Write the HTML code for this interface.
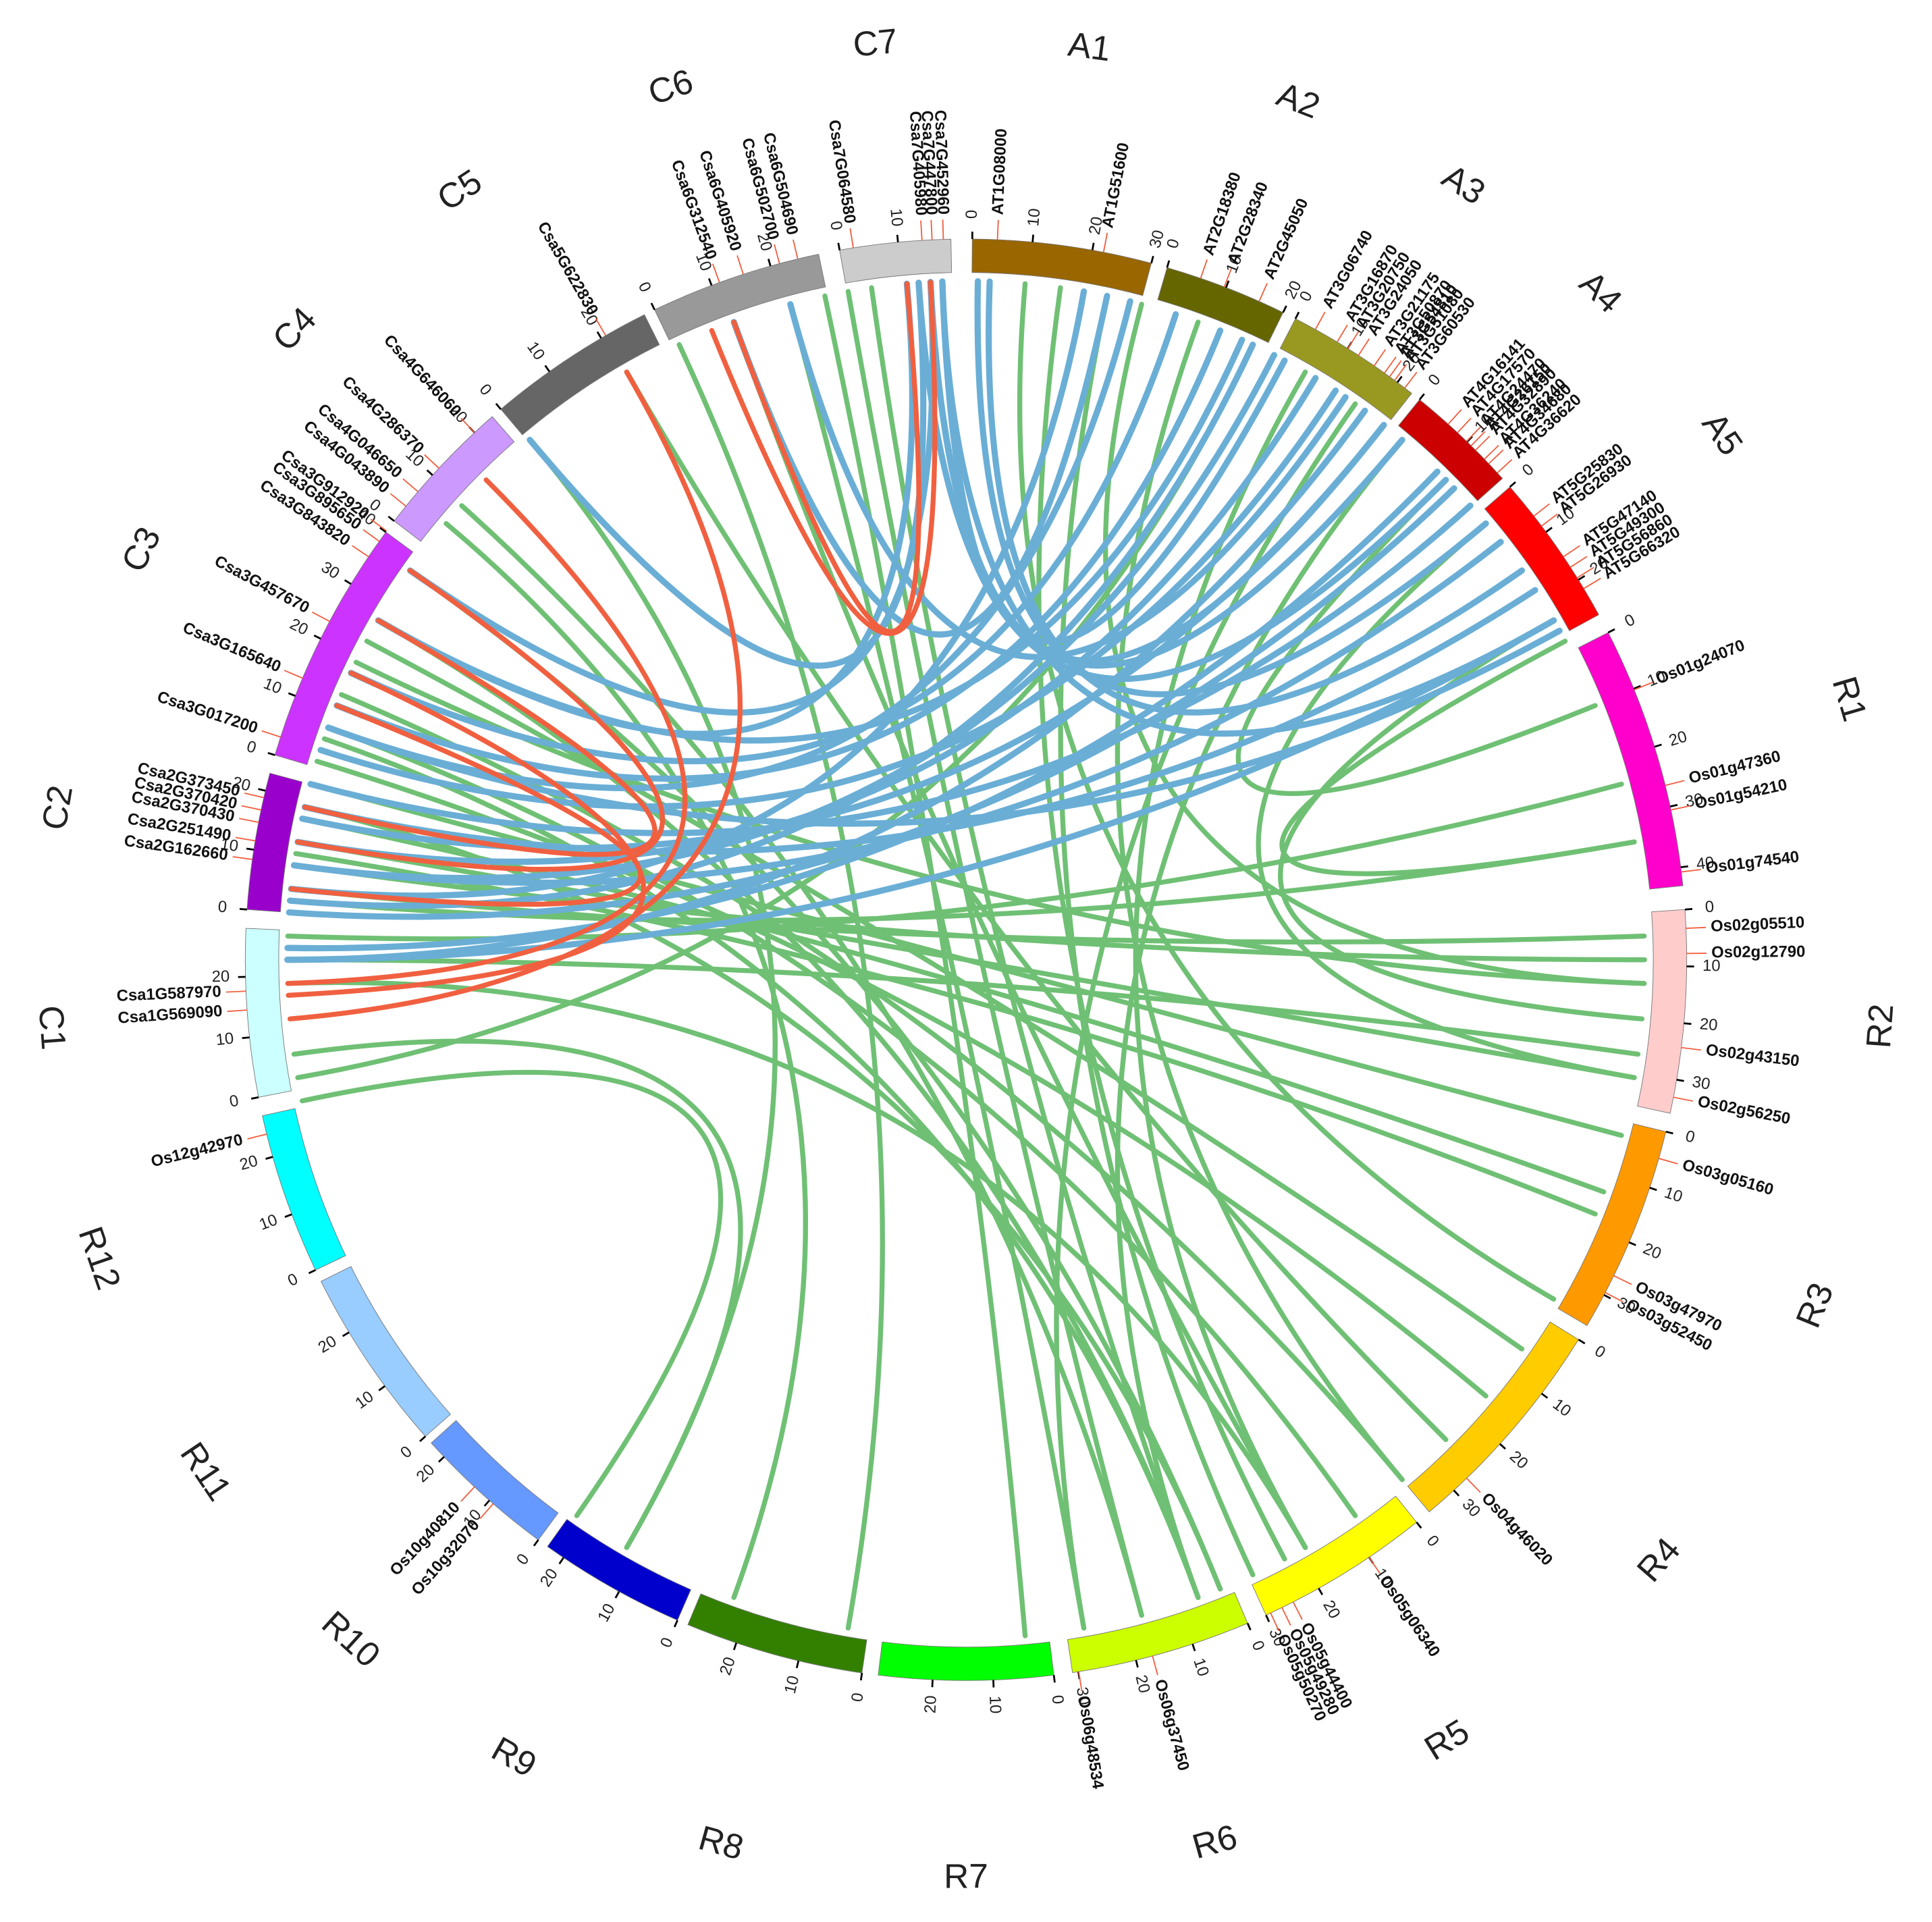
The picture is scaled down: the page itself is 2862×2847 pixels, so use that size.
<!DOCTYPE html>
<html><head><meta charset="utf-8">
<style>html,body{margin:0;padding:0;background:#fff;}svg{display:block;}</style>
</head><body>
<svg id="s" xmlns="http://www.w3.org/2000/svg" width="2862" height="2847" viewBox="0 0 1560 1552" font-family="Liberation Sans, sans-serif"></svg>
<script>
var S=document.getElementById('s'),NS='http://www.w3.org/2000/svg',CX=780,CY=775;
function P(a,r){var t=a*Math.PI/180;return [CX+r*Math.sin(t),CY-r*Math.cos(t)];}
function el(n,at,txt){var e=document.createElementNS(NS,n);for(var k in at)e.setAttribute(k,at[k]);if(txt)e.textContent=txt;S.appendChild(e);return e;}
var chr=[
['A1',0.5,14.9,'#996600',30],['A2',16.2,26.1,'#666600',20],['A3',27.2,38.2,'#999922',23],['A4',39,48.1,'#cc0000',18],['A5',49,61.4,'#ff0000',27],
['R1',63,84.1,'#ff00cc',43],['R2',86,102.3,'#ffcccc',36],['R3',103.8,120.5,'#ff9900',36],['R4',121.8,140,'#ffcc00',35],['R5',141.3,155.4,'#ffff00',30],
['R6',157,171.5,'#ccff00',31],['R7',173,187,'#00ff00',29],['R8',188.3,202.7,'#338000',28],['R9',203.6,215.5,'#0000cc',23],['R10',216.4,227.9,'#6699ff',23],
['R11',228.6,243.5,'#99ccff',29],['R12',244.5,257.5,'#00ffff',27],['C1',259,272.5,'#ccffff',28],['C2',274,285,'#9900cc',23],['C3',286.5,306.4,'#cc33ff',40],
['C4',307.5,318.9,'#cc99ff',24],['C5',319.8,333.5,'#666666',28],['C6',334.4,348.2,'#999999',28],['C7',349.9,358.8,'#cccccc',19]];
var R0=555,R1=582;
// links
function link(a,b,c,w){var p=P(a,548),q=P(b,548);el('path',{d:'M'+p[0]+' '+p[1]+' Q'+CX+' '+CY+' '+q[0]+' '+q[1],fill:'none',stroke:c,'stroke-width':w,'stroke-linecap':'round'});}
var green=[[350,165],[352,160],[345,170],[300,160],[305,158],[290,145],[285,105],[282,110],[280,100],[278,90],[276,88],[275,80],[272,75],[268,150],[262,210],[258,215],[283,158],[287,130],[293,140],[296,92],[310,200],[320,210],[335,190],[348,175],[5,120],[20,140],[30,150],[40,160],[50,100],[60,95],[35,170],[45,68],[15,92],[25,260],[340,150],[330,135],[270,98],[279,112],[289,160],[298,125],[312,165],[8,152],[12,155],[62,80]];
green.forEach(function(l){link(l[0],l[1],'#6fc074',4);});
var blue=[[357,305],[357,40],[358,28],[1,50],[2,55],[14,290],[22,292],[25,275],[27,278],[31,280],[33,288],[36,270],[38,282],[44,271],[46,274],[52,278],[57,283],[60,270],[61,290],[340,12],[345,34],[356,320],[355,300],[358,60],[18,295],[24,300],[356,45],[357,38],[10,276],[48,285]];
blue.forEach(function(l){link(l[0],l[1],'#6aaed6',5);});
var red=[[338,357],[340,355],[330,265],[315,268],[305,280],[300,283],[295,267],[292,276]];
red.forEach(function(l){link(l[0],l[1],'#f06040',4);});
// chromosome arcs
chr.forEach(function(c){var a=P(c[1],R1),b=P(c[2],R1),d=P(c[2],R0),e=P(c[1],R0);
el('path',{d:'M'+a+' A'+R1+' '+R1+' 0 0 1 '+b+' L'+d+' A'+R0+' '+R0+' 0 0 0 '+e+' Z',fill:c[3],stroke:'#777','stroke-width':0.5});
// ticks
var span=c[2]-c[1];for(var v=0;v<=c[4];v+=10){var ang=c[1]+span*v/c[4];var t1=P(ang,R1),t2=P(ang,R1+6);
el('line',{x1:t1[0],y1:t1[1],x2:t2[0],y2:t2[1],stroke:'#000','stroke-width':1.5});
var tp=P(ang,R1+20);var rot=ang<=180?ang-90:ang+90;
el('text',{x:tp[0],y:tp[1],'font-size':13,'text-anchor':'middle','dominant-baseline':'middle',transform:'rotate('+rot+' '+tp[0]+' '+tp[1]+')',fill:'#222'},String(v));}
// name
var m=(c[1]+c[2])/2,np=P(m,742),nr=(m>90&&m<270)?m-180:m;
el('text',{x:np[0],y:np[1],'font-size':28,'text-anchor':'middle','dominant-baseline':'middle',transform:'rotate('+nr+' '+np[0]+' '+np[1]+')',fill:'#222'},c[0]);});
// gene labels
var genes=[[2.5,'AT1G08000'],[11,'AT1G51600'],[19,'AT2G18380'],[21,'AT2G28340'],[24,'AT2G45050'],[29,'AT3G06740'],[31,'AT3G16870'],[32,'AT3G20750'],[33,'AT3G24050'],[34.5,'AT3G21175'],[35.5,'AT3G50870'],[36.5,'AT3G51080'],[37.5,'AT3G60530'],[36,'AT3G54810'],
[42,'AT4G16141'],[43,'AT4G17570'],[44,'AT4G24470'],[45,'AT4G32890'],[46,'AT4G36240'],[44.5,'AT4G26150'],[46.5,'AT4G34680'],[47.5,'AT4G36620'],
[52,'AT5G25830'],[53,'AT5G26930'],[56,'AT5G47140'],[57,'AT5G49300'],[58,'AT5G56860'],[59,'AT5G66320'],
[68,'Os01g24070'],[76,'Os01g47360'],[78,'Os01g54210'],[83,'Os01g74540'],[87.5,'Os02g05510'],[89.5,'Os02g12790'],[97,'Os02g43150'],[101,'Os02g56250'],
[106,'Os03g05160'],[116,'Os03g47970'],[117.5,'Os03g52450'],[136,'Os04g46020'],[146,'Os05g06340'],[153,'Os05g44400'],[154,'Os05g49280'],[155,'Os05g50270'],
[165,'Os06g37450'],[171,'Os06g48534'],[221,'Os10g32070'],[223,'Os10g40810'],[256,'Os12g42970'],
[266,'Csa1G569090'],[267.5,'Csa1G587970'],[278,'Csa2G162660'],[279.5,'Csa2G251490'],[281,'Csa2G370430'],[282,'Csa2G370420'],[283,'Csa2G373450'],
[288,'Csa3G017200'],[293,'Csa3G165640'],[298,'Csa3G457670'],[304,'Csa3G843820'],[305.5,'Csa3G895650'],[306.5,'Csa3G912920'],[309,'Csa4G043890'],[310.5,'Csa4G046650'],[313,'Csa4G286370'],[317,'Csa4G646060'],
[330,'Csa5G622830'],[340,'Csa6G312540'],[342,'Csa6G405920'],[345,'Csa6G502700'],[346.5,'Csa6G504690'],[351,'Csa7G064580'],[356.5,'Csa7G405980'],[357.3,'Csa7G447800'],[358.2,'Csa7G452960']];
genes.forEach(function(g){var a=g[0],p1=P(a,R1),p2=P(a,R1+16);el('line',{x1:p1[0],y1:p1[1],x2:p2[0],y2:p2[1],stroke:'#f06040','stroke-width':1});
var tp=P(a,R1+20),right=a<180,rot=right?a-90:a+90;
el('text',{x:tp[0],y:tp[1],'font-size':13,'font-weight':'bold','text-anchor':right?'start':'end','dominant-baseline':'middle',transform:'rotate('+rot+' '+tp[0]+' '+tp[1]+')',fill:'#111'},g[1]);});
</script>
</body></html>
